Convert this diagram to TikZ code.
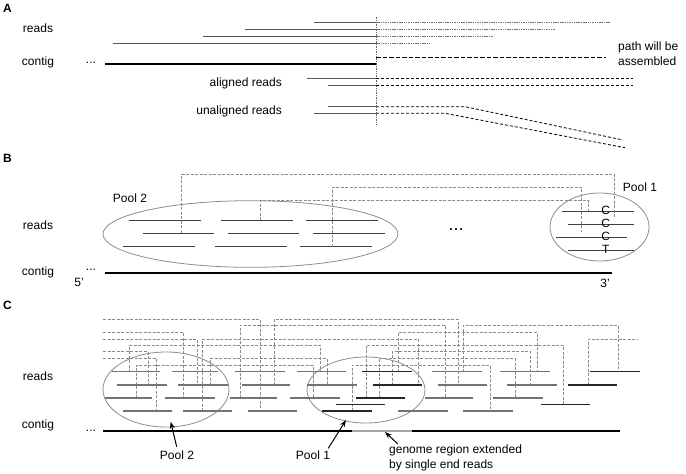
\documentclass[tikz,border=0pt]{standalone}
\usepackage{fontspec}
\setmainfont{Liberation Sans}
\usetikzlibrary{arrows.meta}
\begin{document}
\begin{tikzpicture}[x=1pt,y=-1pt,
  lbl/.style={font=\fontsize{12}{15}\selectfont, inner sep=0pt},
  panel/.style={font=\bfseries\fontsize{12}{14}\selectfont, inner sep=0pt},
  readA/.style={draw=black!65, line width=0.9pt},
  fineA/.style={draw=black!55, line width=0.7pt, dash pattern=on 1.5pt off 0.8pt},
  dashA/.style={draw=black, line width=0.8pt, dash pattern=on 3pt off 2pt},
  contig/.style={draw=black, line width=2pt},
  thickdash/.style={draw=black, line width=1.6pt, dash pattern=on 4.5pt off 2pt},
  pool/.style={draw=black!45, line width=0.8pt},
  readB/.style={draw=black!75, line width=1pt},
  dashB/.style={draw=black!45, line width=0.8pt, dash pattern=on 3pt off 1.5pt},
  readC/.style={draw=black!55, line width=1.1pt},
  darkC/.style={draw=black!85, line width=1.2pt},
  dashC/.style={draw=black!45, line width=0.8pt, dash pattern=on 3pt off 1.5pt},
  arr/.style={draw=black, line width=1pt, -{Stealth[length=7pt,width=5pt]}},
  base/.style={}]
\useasboundingbox (0,0) rectangle (686,474);

% ---------------- Panel A ----------------
\node[panel] (pA) at (7.5,8.5) {A};
\node[lbl] (readsA) at (38,28) {reads};
\node[lbl] (contigA) at (38,62) {contig};
\node[lbl] (dotsA) at (91,63) {...};
\foreach \a/\y/\e in {314/22.7/610, 245/29.3/555, 203/36/493, 113/43.3/431}{
  \draw[readA] (\a,\y) -- (376,\y);
  \draw[fineA] (376,\y) -- (\e,\y);
}
\draw[contig] (105,63.5) -- (376,63.5);
\draw[thickdash] (376,57.3) -- (606,57.3);
\node[lbl, align=left, anchor=west] (pathA) at (618,54.2) {path will be\\assembled};
\draw[black!60, line width=0.7pt, dash pattern=on 1pt off 0.7pt] (376,16.7) -- (376,125);
\node[lbl, anchor=east] (alA) at (282,83.3) {aligned reads};
\draw[readA] (307,78.7) -- (376,78.7);
\draw[dashA] (376,78.7) -- (633,78.7);
\draw[readA] (328,85.3) -- (376,85.3);
\draw[dashA] (376,85.3) -- (633,85.3);
\node[lbl, anchor=east] (unA) at (282,111) {unaligned reads};
\draw[readA] (328,106.7) -- (376,106.7);
\draw[dashA] (376,106.7) -- (465,106.7) -- (623,140);
\draw[readA] (314,113.3) -- (376,113.3);
\draw[dashA] (376,113.3) -- (445,113.3) -- (625,147.7);

% ---------------- Panel B ----------------
\node[panel] (pB) at (7.5,158) {B};
\node[lbl] (readsB) at (38,225) {reads};
\node[lbl] (contigB) at (38,272) {contig};
\node[lbl] (dotsB) at (91,270) {...};
\node[lbl] (fiveB) at (79,282) {5'};
\node[lbl] (threeB) at (605,283) {3'};
\node[font=\fontsize{18}{20}\selectfont, inner sep=0pt] (midB) at (456,230) {...};
\node[lbl] (pool2B) at (130,198) {Pool 2};
\node[lbl] (pool1B) at (640,187) {Pool 1};
\draw[pool] (250.5,234) ellipse [x radius=147.5, y radius=33.3];
\draw[pool] (599.5,227) ellipse [x radius=49.5, y radius=34];
\foreach \a/\b/\y in {129/201/220, 221/293/220, 306/378/220,
                      143/214/233.3, 228/299/233.3, 313/385/233.3,
                      123/195/246.7, 215/287/246.7, 300/372/246.7,
                      562/634/211, 568/634/224, 556/627/237.3, 568/634/250}
  \draw[readB] (\a,\y) -- (\b,\y);
\draw[contig] (105,272.7) -- (611.7,272.7);
\foreach \l/\y in {C/211, C/224, C/237.3, T/250}
  \node[lbl, fill=none] at (605.7,\y-0.5) {\l};
\draw[dashB] (181.7,232.7) |- (614,174) -- (614,218);
\draw[dashB] (332.7,246.7) |- (581.7,187.3) -- (581.7,231.7);
\draw[dashB] (260,220) |- (588,200.7) -- (588,211);

% ---------------- Panel C ----------------
\node[panel] (pC) at (7.5,305) {C};
\node[lbl] (readsC) at (38,376) {reads};
\node[lbl] (contigC) at (38,425) {contig};
\node[lbl] (dotsC) at (91,431) {...};
\draw[pool] (166,389.5) ellipse [x radius=63, y radius=37.5];
\draw[pool] (366,390) ellipse [x radius=59, y radius=33];
% dashed pair links
\foreach \h/\b/\yb in {319.3/260/411, 332.3/183/398, 339/197/385, 351.7/148/385, 358.3/156/411}
  \draw[dashC] (103,\h) -| (\b,\yb);
\foreach \a/\ya/\b/\yb/\h in {274/385/458/385/319.3, 240/398/445/398/325,
    463/372/618/372/325, 398/372/537/372/332.3, 202/411/418/385/339,
    129/372/320/372/345, 366/398/563/404/345, 392/385/530/385/351.7,
    210/385/327/385/358.3, 379/398/515/398/358.3, 136/398/313/398/365,
    352/411/490/411/365}
  \draw[dashC] (\a,\ya) |- (\b,\h) -- (\b,\yb);
\draw[dashC] (588,385) |- (638,339);
% reads
\foreach \a/\b/\y in {112/160/371.7, 172/218/371.7, 235/285/371.7, 297/346/371.7,
    432/482/371.7, 500/550/371.7,
    117/167/385, 178/228/385, 242/290/385, 307/357/385, 438/487/385, 507/557/385,
    105/152/398, 165/215/398, 230/277/398, 290/340/398, 425/473/398, 493/543/398,
    123/172/411, 183/232/411, 248/297/411, 398/448/411, 463/513/411}
  \draw[readC] (\a,\y) -- (\b,\y);
\foreach \a/\b/\y in {362/412/371.7, 590/640/371.7, 373/422/385, 568/617/385,
    356/405/398, 336/385/404.5, 541/590/404.5, 322/372/411}
  \draw[darkC] (\a,\y) -- (\b,\y);
% contig
\draw[contig, line width=2.2pt] (103,430.7) -- (352,430.7);
\draw[draw=black!35, line width=2.2pt] (352,430.7) -- (412,430.7);
\draw[contig, line width=2.2pt] (412,430.7) -- (620,430.7);
% labels and arrows
\node[lbl] (pool2C) at (177,455) {Pool 2};
\node[lbl] (pool1C) at (313,455) {Pool 1};
\node[lbl, align=left, anchor=west] (genC) at (389,457.5) {genome region extended\\by single end reads};
\coordinate (t2) at (170.7,421.7);
\coordinate (t1) at (346,420);
\coordinate (tg) at (385,432);
\draw[arr] (176.7,446.7) -- (t2);
\draw[arr] (328.3,448.3) -- (t1);
\draw[arr] (398,444) -- (tg);
\end{tikzpicture}
\end{document}
